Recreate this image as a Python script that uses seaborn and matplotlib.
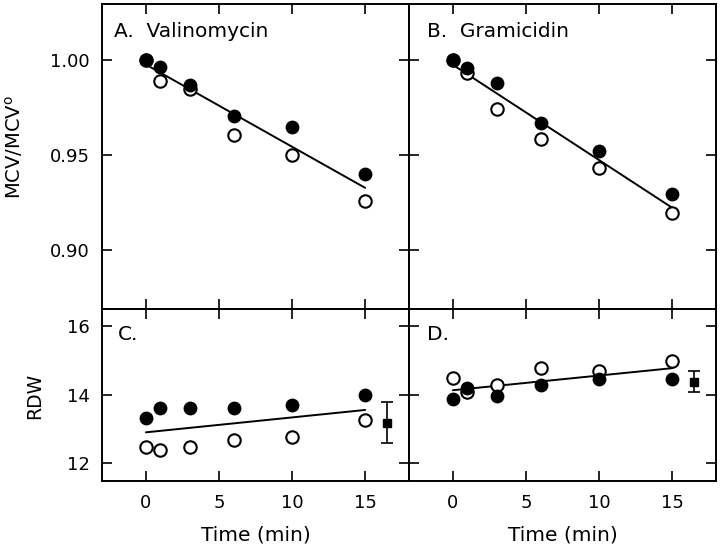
import matplotlib
matplotlib.use('Agg')
import matplotlib.pyplot as plt
import pandas as pd
import seaborn as sns

times = [0, 1, 3, 6, 10, 15]

# MCV/MCV0, panels A and B
val_filled = [1.000, 0.9965, 0.987, 0.9705, 0.965, 0.940]
val_open = [1.000, 0.989, 0.9846, 0.9605, 0.950, 0.926]
gram_filled = [1.000, 0.9956, 0.9877, 0.9667, 0.9523, 0.9293]
gram_open = [1.000, 0.993, 0.974, 0.9584, 0.943, 0.9193]

# RDW, panels C and D
rdw_val_filled = [13.31, 13.60, 13.60, 13.60, 13.69, 13.99]
rdw_val_open = [12.49, 12.40, 12.49, 12.68, 12.78, 13.27]
rdw_gram_filled = [13.87, 14.19, 13.97, 14.28, 14.47, 14.47]
rdw_gram_open = [14.48, 14.07, 14.29, 14.78, 14.69, 14.98]

# control RDW (mean +- sd) shown right of the data
ctrl_x = 16.5
ctrl_val = (13.19, 0.60)
ctrl_gram = (14.38, 0.30)

panel_titles = ['A.  Valinomycin', 'B.  Gramicidin', 'C.', 'D.']


def make_df(filled, opened):
    df = pd.DataFrame({'time': times * 2,
                       'value': filled + opened,
                       'kind': ['filled'] * len(times) + ['open'] * len(times)})
    return df


sns.set_style('ticks')
plt.rcParams['font.family'] = ['DejaVu Sans']
plt.rcParams['axes.linewidth'] = 1.4
for k in ['text.color', 'axes.labelcolor', 'xtick.color', 'ytick.color', 'axes.edgecolor']:
    plt.rcParams[k] = 'black'

fig, axes = plt.subplots(2, 2, figsize=(7.2, 5.51), dpi=100, sharex=True,
                         gridspec_kw=dict(height_ratios=[305, 172], hspace=0, wspace=0))
fig.subplots_adjust(left=0.1417, right=0.9944, top=0.9927, bottom=0.127)

panels = [(axes[0, 0], make_df(val_filled, val_open)),
          (axes[0, 1], make_df(gram_filled, gram_open)),
          (axes[1, 0], make_df(rdw_val_filled, rdw_val_open)),
          (axes[1, 1], make_df(rdw_gram_filled, rdw_gram_open))]

label_pos = [(0.039, 0.94), (0.058, 0.94), (0.053, 0.905), (0.058, 0.905)]

for i, (ax, df) in enumerate(panels):
    sns.regplot(data=df, x='time', y='value', scatter=False, ci=None, truncate=True,
                color='black', line_kws=dict(lw=1.4), ax=ax)
    sns.scatterplot(data=df[df.kind == 'open'], x='time', y='value', s=80,
                    color='white', edgecolor='black', linewidth=1.5, ax=ax, zorder=3)
    sns.scatterplot(data=df[df.kind == 'filled'], x='time', y='value', s=80,
                    color='black', edgecolor='black', linewidth=1.0, ax=ax, zorder=4)
    ax.set_xlim(-3, 18)
    ax.set_xticks([0, 5, 10, 15])
    ax.set_xlabel('')
    ax.set_ylabel('')
    ax.tick_params(direction='in', top=True, right=True, length=7, width=1.2,
                   labelsize=13, pad=9, colors='black')
    ax.text(label_pos[i][0], label_pos[i][1], panel_titles[i], transform=ax.transAxes,
            ha='left', va='top', fontsize=14.5)
    for s in ax.spines.values():
        s.set_visible(True)
        s.set_linewidth(1.4)
        s.set_color('black')

for ax in axes[0]:
    ax.set_ylim(0.869, 1.0295)
    ax.set_yticks([0.90, 0.95, 1.00])
    ax.set_yticklabels(['0.90', '0.95', '1.00'])
for ax in axes[1]:
    ax.set_ylim(11.49, 16.49)
    ax.set_yticks([12, 14, 16])

for ax in axes[:, 1]:
    ax.tick_params(labelleft=False)

axes[1, 0].errorbar([ctrl_x], [ctrl_val[0]], yerr=[ctrl_val[1]], fmt='s', color='black',
                    ms=6, capsize=4, lw=1.2, capthick=1.2)
axes[1, 1].errorbar([ctrl_x], [ctrl_gram[0]], yerr=[ctrl_gram[1]], fmt='s', color='black',
                    ms=6, capsize=4, lw=1.2, capthick=1.2)

axes[0, 0].set_ylabel(r'MCV/MCV$^{\mathrm{o}}$', fontsize=14)
axes[0, 0].yaxis.set_label_coords(-0.25, 0.53)
axes[1, 0].set_ylabel('RDW', fontsize=13.5)
axes[1, 0].yaxis.set_label_coords(-0.19, 0.494)
for ax in axes[1]:
    ax.set_xlabel('Time (min)', fontsize=14.5)
    ax.xaxis.set_label_coords(0.5, -0.26)

fig.savefig('out.png', dpi=100)
